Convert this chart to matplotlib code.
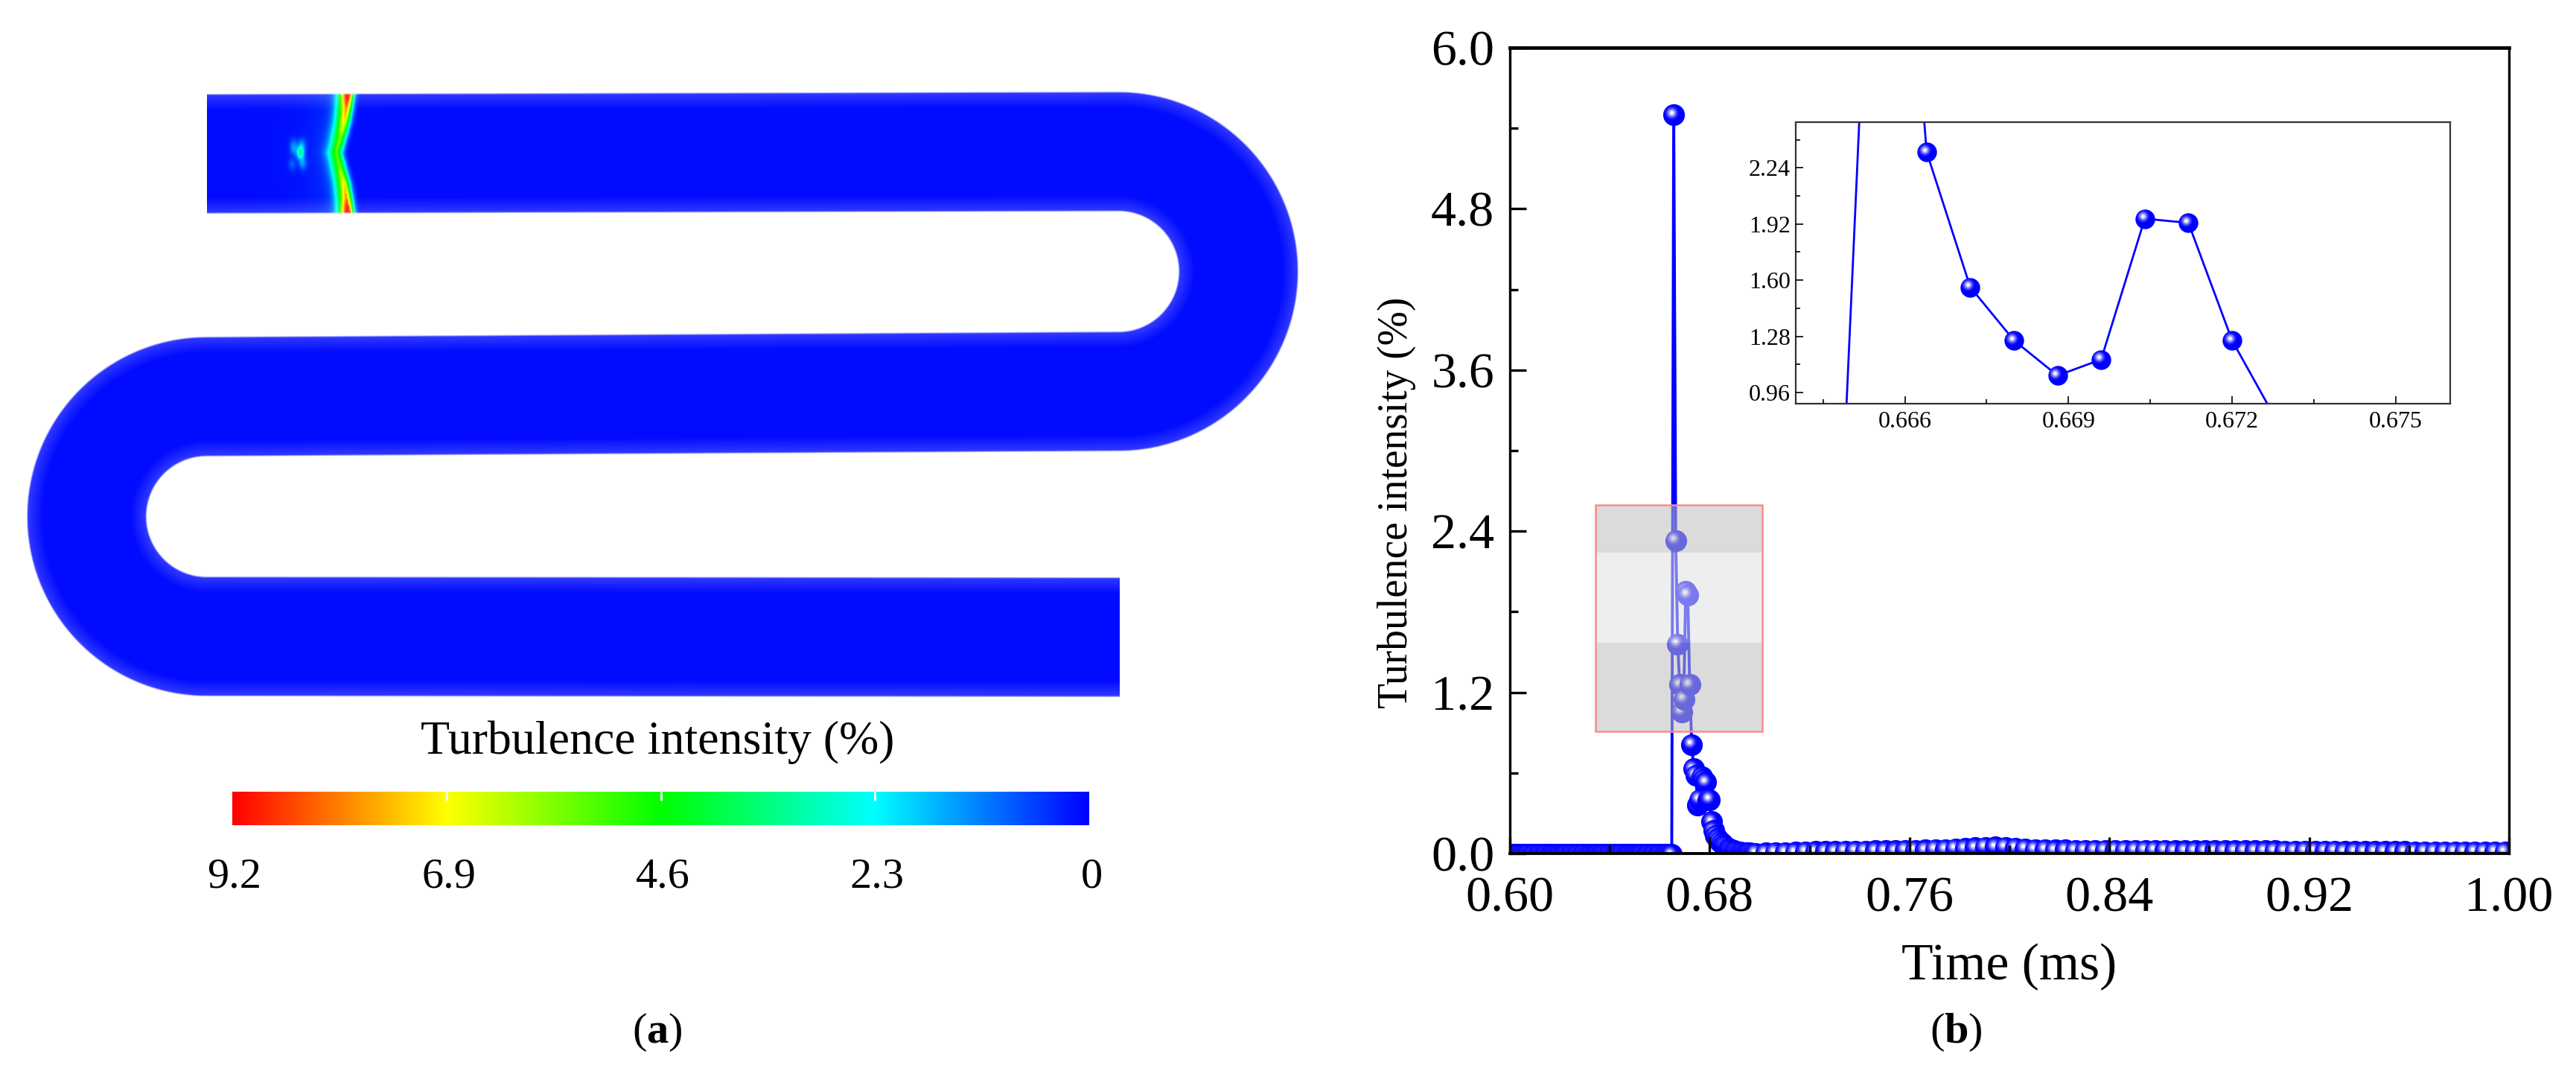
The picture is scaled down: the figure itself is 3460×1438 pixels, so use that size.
import numpy as np
import matplotlib
matplotlib.use("Agg")
import matplotlib.pyplot as plt
from matplotlib.colors import LinearSegmentedColormap
from matplotlib.patches import Rectangle
from matplotlib.ticker import FormatStrFormatter
from matplotlib.transforms import offset_copy

plt.rcParams['font.family'] = ['Liberation Serif', 'DejaVu Serif']
plt.rcParams['mathtext.fontset'] = 'custom'
plt.rcParams['mathtext.rm'] = 'Liberation Serif'
plt.rcParams['mathtext.bf'] = 'Liberation Serif:bold'

W, H = 3460, 1438

# (a) colour scale
scale_colors = ['#0000ff', '#00ffff', '#00ff00', '#ffff00', '#ff0000']
scale_ticks = [9.2, 6.9, 4.6, 2.3, 0.0]
scale_labels = ['9.2', '6.9', '4.6', '2.3', '0']
scale_title = 'Turbulence intensity (%)'

# (a) shock front: distance from channel axis (0..1)
front_offset = [0.0, 0.25, 0.5, 0.75, 1.0]
front_x = [453, 458, 463, 466, 468]
front_peak = [4.4, 4.8, 6.0, 7.0, 9.2]
base_level = 0.12

# (a) small spot behind the front
spot_x = [403, 405, 394, 392, 406, 394]
spot_y = [205, 194, 200, 220, 219, 192]
spot_level = [3.0, 1.2, 1.0, 0.7, 1.2, 0.6]

# (b) time series, three stretches with their own sample step
quiet_start, quiet_step = 0.6, 0.0008
quiet_values = [-0.008] * 81

burst_start, burst_step = 0.6648, 0.0008
burst_values = [
    -0.008, 5.50, 2.33, 1.56, 1.257, 1.056, 1.148, 1.95, 1.926, 1.257,
    0.81, 0.63, 0.585, 0.36, 0.40, 0.57, 0.55, 0.53, 0.40, 0.40,
    0.237, 0.17, 0.135, 0.11, 0.09, 0.075, 0.06, 0.05, 0.04, 0.032,
    0.025, 0.02, 0.016, 0.013, 0.01, 0.008, 0.006, 0.005, 0.004, 0.003,
    0.002, 0.002,
]

tail_start, tail_step = 0.6984, 0.004
tail_values = [
    0.002, 0.004, 0.006, 0.008, 0.010, 0.012, 0.014, 0.015, 0.016, 0.017,
    0.018, 0.019, 0.020, 0.021, 0.022, 0.023, 0.024, 0.026, 0.028, 0.030,
    0.034, 0.038, 0.042, 0.046, 0.048, 0.046, 0.040, 0.034, 0.030, 0.028,
    0.026, 0.025, 0.024, 0.024, 0.024, 0.024, 0.024, 0.024, 0.024, 0.023,
    0.023, 0.023, 0.022, 0.022, 0.022, 0.022, 0.021, 0.021, 0.021, 0.020,
    0.020, 0.020, 0.020, 0.019, 0.019, 0.018, 0.018, 0.017, 0.017, 0.016,
    0.016, 0.015, 0.015, 0.014, 0.014, 0.014, 0.013, 0.013, 0.013, 0.012,
    0.012, 0.012, 0.012, 0.012, 0.012, 0.012,
]

main_xticks = [0.60, 0.68, 0.76, 0.84, 0.92, 1.00]
main_xminor = [0.64, 0.72, 0.80, 0.88, 0.96]
main_yticks = [0.0, 1.2, 2.4, 3.6, 4.8, 6.0]
main_yminor = [0.6, 1.8, 3.0, 4.2, 5.4]
inset_xticks = [0.666, 0.669, 0.672, 0.675]
inset_xminor = [0.6645, 0.6675, 0.6705, 0.6735]
inset_yticks = [0.96, 1.28, 1.60, 1.92, 2.24]
inset_yminor = [1.12, 1.44, 1.76, 2.08, 2.40]


def px_axes(fig, left, top, right, bottom):
    return fig.add_axes([left / W, 1 - bottom / H, (right - left) / W, (bottom - top) / H])


def seg_dist(X, Y, p, q):
    dx, dy = q[0] - p[0], q[1] - p[1]
    t = np.clip(((X - p[0]) * dx + (Y - p[1]) * dy) / (dx * dx + dy * dy), 0, 1)
    return np.hypot(X - p[0] - t * dx, Y - p[1] - t * dy)


def arc_dist(X, Y, cx, cy, r, side):
    d = np.abs(np.hypot(X - cx, Y - cy) - r)
    return np.where(side * (X - cx) >= 0, d, 1e6)


def channel_image(cmap):
    Y, X = np.mgrid[100:960, 10:1770].astype(float)
    half = 81.0
    dist = np.minimum.reduce([
        seg_dist(X, Y, (278, 206), (1502, 203)),
        arc_dist(X, Y, 1502, 364, 161, 1),
        seg_dist(X, Y, (1502, 525), (277, 532)),
        arc_dist(X, Y, 277, 693, 161, -1),
        seg_dist(X, Y, (277, 854), (1503, 855)),
    ])
    dist[(X < 278) & (Y < 300)] = 1e6
    dist[(X > 1503) & (Y > 700)] = 1e6

    # field in the first straight: the front and the small spot behind it
    field = np.full(X.shape, base_level)
    first = (Y < 300) & (X < 800)
    off = np.abs(Y - 205) / half
    fx = np.interp(off, front_offset, front_x)
    peak = np.interp(off, front_offset, front_peak)
    dx = X - fx
    sigma = np.where(dx < 0, 13.0, 7.0)
    front = peak * np.exp(-(dx / sigma) ** 2) + np.where(dx < 0, 0.9 * np.exp(dx / 24.0), 0)
    spot = np.zeros(X.shape)
    for sx, sy, level in zip(spot_x, spot_y, spot_level):
        spot += level * np.exp(-((X - sx) / 5.0) ** 2 - ((Y - sy) / 8.0) ** 2)
    field = np.where(first, base_level + front + spot, field)

    rgba = cmap(np.clip(field / 9.2, 0, 1))
    depth = half - dist
    rgba[..., 3] = np.clip(depth / 2.5, 0, 1) * (0.8 + 0.2 * np.clip(depth / 22.0, 0, 1))
    return rgba


def beads(ax, xs, ys, size):
    # shaded balls, drawn one by one so that later ones cover earlier ones
    shift = size * 0.12
    lit = offset_copy(ax.transData, fig=ax.figure, x=-shift, y=shift, units='points')
    layers = [(0.62, '#2020ff'), (0.46, '#6060ff'), (0.32, '#a8a8ff'), (0.18, '#f4f4ff')]
    for x, y in zip(xs, ys):
        ax.plot([x], [y], 'o', ms=size, mfc='#0000ff', mew=0, zorder=2)
        for frac, col in layers:
            ax.plot([x], [y], 'o', ms=size * frac, mfc=col, mew=0, zorder=2, transform=lit)


def style_axis(ax, major_len, minor_len, major_w, minor_w):
    ax.tick_params(which='major', direction='in', length=major_len, width=major_w)
    ax.tick_params(which='minor', direction='in', length=minor_len, width=minor_w)
    ax.tick_params(top=False, right=False, which='both')
    ax.set_axisbelow(False)


fig = plt.figure(figsize=(W / 100, H / 100), dpi=100)
back = fig.add_axes([0, 0, 1, 1])
back.axis('off')

# panel (a)
cmap = LinearSegmentedColormap.from_list('field', scale_colors, N=512)
back.imshow(channel_image(cmap), extent=(10, 1770, 960, 100), aspect='auto', interpolation='bilinear')
bar_vals = np.linspace(scale_ticks[0], scale_ticks[-1], 512)[None, :]
back.imshow(bar_vals, extent=(312, 1463, 1108, 1063), aspect='auto', cmap=cmap, vmin=0, vmax=9.2)
back.set_xlim(0, W)
back.set_ylim(H, 0)

for val, label in zip(scale_ticks, scale_labels):
    x = 1463 - val / 9.2 * (1463 - 312)
    if 0 < val < 9.2:
        back.plot([x, x], [1063, 1075], color='#f4f4f4', lw=2.2, solid_capstyle='butt')
    back.text(x + 3, 1177, label, fontsize=42, ha='center', va='center')
back.text(883, 997, scale_title, fontsize=46, ha='center', va='center')
back.text(883, 1386, r'($\mathbf{a}$)', fontsize=42, ha='center', va='center')
back.text(2627, 1386, r'($\mathbf{b}$)', fontsize=42, ha='center', va='center')

# panel (b) data
quiet_t = quiet_start + quiet_step * np.arange(len(quiet_values))
burst_t = burst_start + burst_step * np.arange(len(burst_values))
tail_t = tail_start + tail_step * np.arange(len(tail_values))
time = np.concatenate([quiet_t, burst_t, tail_t])
intensity = np.concatenate([quiet_values, burst_values, tail_values])

ax = px_axes(fig, 2028, 64, 3370, 1146)
ax.plot(time, intensity, color='#0000ff', lw=2.8, zorder=2)
beads(ax, time, intensity, 21)
ax.set_xlim(0.6, 1.0)
ax.set_ylim(0, 6.0)
ax.set_xticks(main_xticks)
ax.set_xticks(main_xminor, minor=True)
ax.set_yticks(main_yticks)
ax.set_yticks(main_yminor, minor=True)
ax.xaxis.set_major_formatter(FormatStrFormatter('%.2f'))
ax.yaxis.set_major_formatter(FormatStrFormatter('%.1f'))
style_axis(ax, 16, 8, 2.4, 2.4)
ax.tick_params(axis='both', which='major', labelsize=49)
ax.tick_params(axis='x', pad=22)
ax.tick_params(axis='y', pad=15)
for side, lw in {'top': 3.4, 'bottom': 2.8, 'left': 2.4, 'right': 2.4}.items():
    ax.spines[side].set_linewidth(lw)

# highlighted window over the burst
box_left, box_right = 0.6343, 0.7010
band_edges = [0.909, 1.572, 2.24, 2.595]
band_greys = ['#bebebe', '#e0e0e0', '#bebebe']
for lo, hi, grey in zip(band_edges[:-1], band_edges[1:], band_greys):
    ax.add_patch(Rectangle((box_left, lo), box_right - box_left, hi - lo, facecolor=grey,
                           edgecolor='none', alpha=0.55, zorder=3))
ax.add_patch(Rectangle((box_left, band_edges[0]), box_right - box_left, band_edges[-1] - band_edges[0],
                       facecolor='none', edgecolor='#ff8a8a', lw=1.8, zorder=3.1))

back.text(2699, 1298, 'Time (ms)', fontsize=50, ha='center', va='center')
back.text(1876, 675, scale_title, fontsize=40, ha='center', va='center', rotation=90)

# inset
inset = px_axes(fig, 2412, 164, 3291, 542)
inset.plot(time, intensity, color='#0000ff', lw=2.0, zorder=2)
beads(inset, time, intensity, 19)
inset.set_xlim(0.664, 0.676)
inset.set_ylim(0.896, 2.50)
inset.set_xticks(inset_xticks)
inset.set_xticks(inset_xminor, minor=True)
inset.set_yticks(inset_yticks)
inset.set_yticks(inset_yminor, minor=True)
inset.xaxis.set_major_formatter(FormatStrFormatter('%.3f'))
inset.yaxis.set_major_formatter(FormatStrFormatter('%.2f'))
style_axis(inset, 7, 4, 1.2, 1.2)
inset.tick_params(axis='both', which='major', labelsize=23, pad=7)
inset.tick_params(axis='y', pad=5)
for side in inset.spines:
    inset.spines[side].set_color('#333333')
    inset.spines[side].set_linewidth(1.6)
back.text(2853, 597, 'Time (ms)', fontsize=22, ha='center', va='center')
back.text(2328, 353, scale_title, fontsize=21, ha='center', va='center', rotation=90)

fig.savefig('out.png', dpi=100, facecolor='white')
